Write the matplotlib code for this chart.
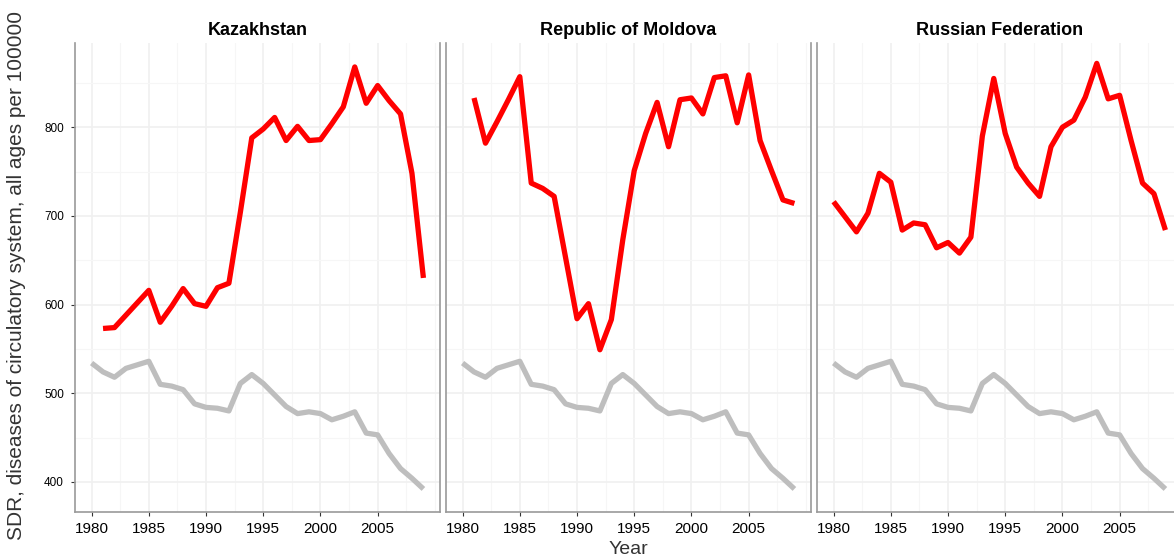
import numpy as np
import matplotlib.pyplot as plt
from matplotlib.ticker import MultipleLocator

plt.rcParams['font.family'] = ['Liberation Sans', 'DejaVu Sans']

# dados
anos = list(range(1980, 2010))

# linha cinzenta (referência, igual nos três painéis)
referencia = [534, 524, 518, 528, 532, 536, 510, 508, 504, 488,
              484, 483, 480, 511, 521, 511, 498, 485, 477, 479,
              477, 470, 474, 479, 455, 453, 432, 415, 404, 392]

paises = ["Kazakhstan", "Republic of Moldova", "Russian Federation"]

kazakhstan_anos = list(range(1981, 2010))
kazakhstan = [573, 574, 588, 602, 616, 580, 598, 618, 601, 598,
              619, 624, 704, 788, 798, 811, 785, 801, 785, 786,
              804, 823, 868, 827, 847, 830, 815, 748, 630]

moldova_anos = list(range(1981, 2010))
moldova = [833, 782, 806, 831, 857, 737, 731, 722, 653, 584,
           601, 549, 583, 673, 751, 793, 828, 778, 831, 833,
           815, 856, 858, 805, 859, 785, 751, 718, 714]

russia_anos = list(range(1980, 2010))
russia = [716, 699, 682, 703, 748, 738, 684, 692, 690, 664,
          670, 658, 676, 790, 855, 793, 755, 737, 722, 778,
          800, 808, 834, 872, 832, 836, 785, 737, 725, 684]

series = [(kazakhstan_anos, kazakhstan), (moldova_anos, moldova), (russia_anos, russia)]

fig = plt.figure(figsize=(11.74, 5.59), dpi=100)

W, H = 1174, 559
esquerdas = [75, 446, 817]  # pixels
largura = 365
topo, base = 43, 512

cor_borda = '#9a9a9a'
cor_grelha = '#f0f0f0'

for i, (nome, (xs, ys)) in enumerate(zip(paises, series)):
    ax = fig.add_axes([esquerdas[i] / W, (H - base) / H, largura / W, (base - topo) / H])
    ax.set_xlim(1978.55, 2010.45)
    ax.set_ylim(366, 895)

    ax.xaxis.set_major_locator(MultipleLocator(5))
    ax.xaxis.set_minor_locator(MultipleLocator(2.5))
    ax.yaxis.set_major_locator(MultipleLocator(100))
    ax.yaxis.set_minor_locator(MultipleLocator(50))
    ax.set_xticks(range(1980, 2010, 5))
    ax.set_yticks(range(400, 801, 100))

    ax.grid(True, which='major', color=cor_grelha, linewidth=1.2, zorder=0)
    ax.grid(True, which='minor', color='#f6f6f6', linewidth=0.8, zorder=0)
    ax.tick_params(which='minor', length=0)
    ax.tick_params(axis='x', which='major', labelsize=11, length=3, color='#333333', pad=4)
    ax.tick_params(axis='y', which='major', labelsize=8.5, length=3, color='#333333', pad=5)

    # desenha a referência e o país
    ax.plot(anos, referencia, color='#bebebe', linewidth=3.8, solid_capstyle='butt', zorder=2)
    ax.plot(xs, ys, color='#ff0000', linewidth=3.8, solid_capstyle='butt', zorder=3)

    ax.spines['top'].set_visible(False)
    for lado in ['left', 'right', 'bottom']:
        ax.spines[lado].set_color(cor_borda)
        ax.spines[lado].set_linewidth(1.2)

    if i > 0:
        ax.tick_params(axis='y', labelleft=False, length=0)

    ax.set_title(nome, fontsize=13, fontweight='bold', pad=6)

fig.text(628 / W, (H - 549) / H, "Year", ha='center', va='center', fontsize=14, color='#333333')
fig.text(17 / W, (H - 276) / H, "SDR, diseases of circulatory system, all ages per 100000",
         ha='center', va='center', rotation=90, fontsize=15, color='#333333')

fig.savefig("out.png", dpi=100)
